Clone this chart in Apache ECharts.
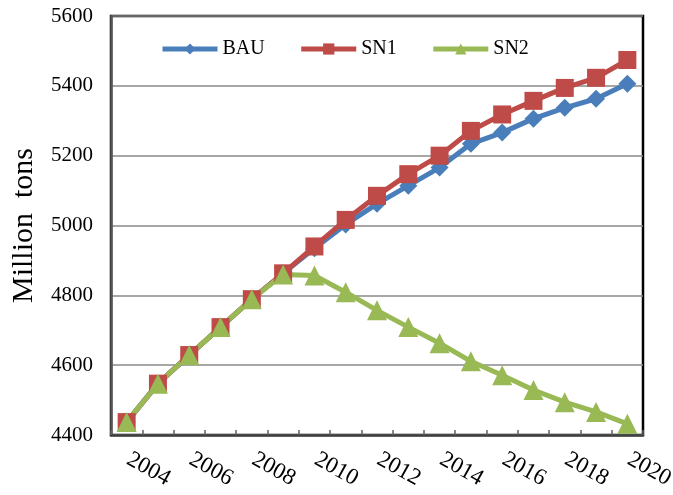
<!DOCTYPE html>
<html>
<head>
<meta charset="utf-8">
<script src="https://cdn.jsdelivr.net/npm/echarts@6/dist/echarts.min.js"></script>
<style>
html,body{margin:0;padding:0;background:#fff;}
#chart{width:673px;height:495px;}
</style>
</head>
<body>
<div id="chart"></div>
<script>
const years = ['2004','2005','2006','2007','2008','2009','2010','2011','2012','2013','2014','2015','2016','2017','2018','2019','2020'];
const bau = [4437, 4547, 4629, 4709, 4789, 4863, 4935, 5003, 5062, 5114, 5166, 5234, 5266, 5306, 5337, 5363, 5406];
const sn1 = [4437, 4547, 4629, 4709, 4789, 4863, 4940, 5016, 5085, 5147, 5200, 5271, 5318, 5357, 5394, 5423, 5474];
const sn2 = [4437, 4547, 4629, 4709, 4789, 4860, 4857, 4809, 4757, 4709, 4663, 4611, 4571, 4529, 4494, 4466, 4432];
const seriesNames = ['BAU', 'SN1', 'SN2'];
const yAxisName = 'Million  tons';

const font = 'Liberation Serif, Times New Roman, serif';
const chart = echarts.init(document.getElementById('chart'));
chart.setOption({
  animation: false,
  backgroundColor: '#fff',
  textStyle: { fontFamily: font },
  grid: { left: 111, right: 30, top: 16, bottom: 60, show: true, borderColor: '#000', borderWidth: 2.5,
          containLabel: false, outerBoundsMode: 'none' },
  legend: {
    top: 34, left: 155,
    itemWidth: 55, itemHeight: 14, itemGap: 34,
    lineStyle: { width: 5 },
    textStyle: { fontFamily: font, fontSize: 20, color: '#000' },
    data: seriesNames
  },
  xAxis: {
    type: 'category',
    data: years,
    boundaryGap: true,
    axisLine: { lineStyle: { color: '#404040', width: 2.5 } },
    axisTick: { show: true, inside: true, length: 5, interval: 0, lineStyle: { color: '#606060', width: 1.5 } },
    axisLabel: { interval: 1, rotate: -29, margin: 22, padding: [0, 0, 0, 2], fontFamily: font, fontSize: 23, color: '#000' }
  },
  yAxis: {
    type: 'value',
    min: 4400, max: 5600, interval: 200,
    name: yAxisName,
    nameLocation: 'middle',
    nameGap: 72,
    nameTextStyle: { fontFamily: font, fontSize: 30, color: '#000' },
    axisLine: { show: true, lineStyle: { color: '#555', width: 2.5 } },
    axisTick: { show: false },
    axisLabel: { margin: 18, fontFamily: font, fontSize: 21, color: '#000', formatter: function (v) { return String(v); } },
    splitLine: { lineStyle: { color: '#8a8a8a', width: 1.5 } }
  },
  series: [
    { name: seriesNames[0], type: 'line', data: bau, symbol: 'diamond', symbolSize: 18,
      itemStyle: { color: '#4A7EBB' }, lineStyle: { color: '#4A7EBB', width: 5 } },
    { name: seriesNames[1], type: 'line', data: sn1, symbol: 'rect', symbolSize: 18,
      itemStyle: { color: '#BE4B48' }, lineStyle: { color: '#BE4B48', width: 5 } },
    { name: seriesNames[2], type: 'line', data: sn2, symbol: 'triangle', symbolSize: 20,
      itemStyle: { color: '#98B954' }, lineStyle: { color: '#98B954', width: 5 } }
  ]
});
</script>
</body>
</html>
